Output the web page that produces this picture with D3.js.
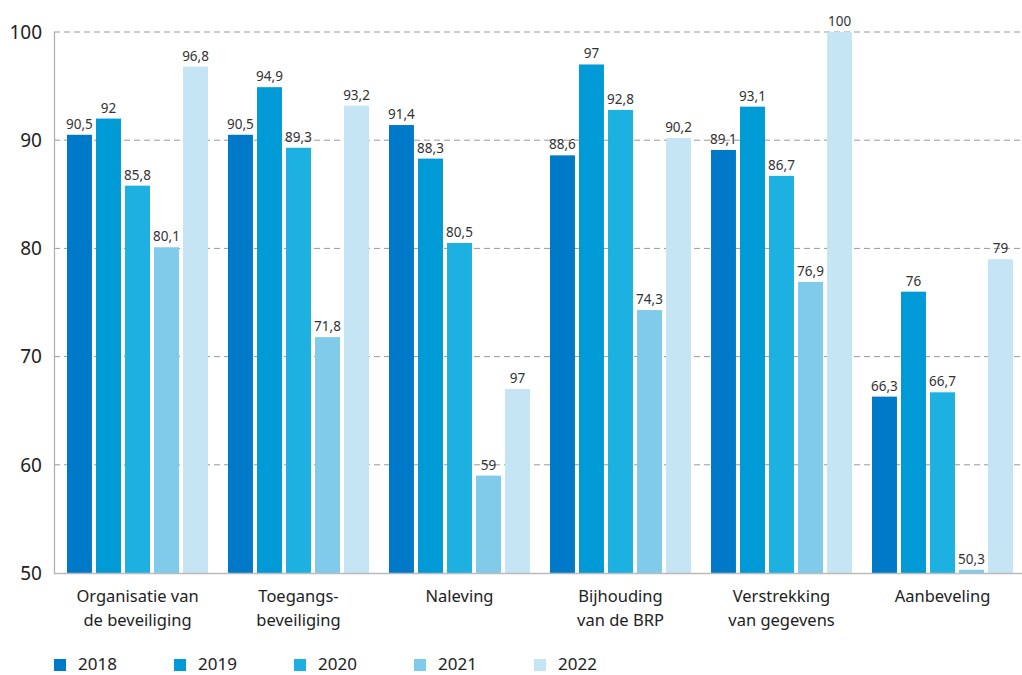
<!DOCTYPE html>
<html>
<head>
<meta charset="utf-8">
<script src="https://d3js.org/d3.v7.min.js"></script>
<style>
  body { margin: 0; background: #fff; }
  svg { font-family: 'Noto Sans', 'Open Sans', sans-serif; }
  .tick-label { font-size: 19px; fill: #222; }
  .val { font-size: 13.5px; fill: #333; }
  .cat { font-size: 16.5px; fill: #222; }
  .leg { font-size: 17px; fill: #222; }
</style>
</head>
<body>
<script>
// Categories and series
var categories = [
  ['Organisatie van', 'de beveiliging'],
  ['Toegangs-', 'beveiliging'],
  ['Naleving'],
  ['Bijhouding', 'van de BRP'],
  ['Verstrekking', 'van gegevens'],
  ['Aanbeveling']
];
var years = ['2018', '2019', '2020', '2021', '2022'];
var v2018 = [90.5, 90.5, 91.4, 88.6, 89.1, 66.3];
var v2019 = [92, 94.9, 88.3, 97, 93.1, 76];
var v2020 = [85.8, 89.3, 80.5, 92.8, 86.7, 66.7];
var v2021 = [80.1, 71.8, 59, 74.3, 76.9, 50.3];
var v2022 = [96.8, 93.2, 67, 90.2, 100, 79];
// label printed in the source differs from the bar for Naleving 2022
var label2022 = ['96,8', '93,2', '97', '90,2', '100', '79'];
var yTicks = [50, 60, 70, 80, 90, 100];
var colors = ['#0079c8', '#009ad6', '#1db1e2', '#80cbea', '#c5e5f5'];

var series = [v2018, v2019, v2020, v2021, v2022];

var W = 1022, H = 675;
var svg = d3.select('body').append('svg')
  .attr('width', W).attr('height', H);

var x0 = d3.scaleBand()
  .domain(d3.range(categories.length))
  .range([57, 1023])
  .paddingInner(0).paddingOuter(0);

var x1 = d3.scaleBand()
  .domain(years)
  .range([10, x0.bandwidth() - 10])
  .paddingInner(0.14).paddingOuter(0);

var y = d3.scaleLinear().domain([50, 100]).range([573, 32]);

var fmt = function (v) { return String(v).replace('.', ','); };

// gridlines
svg.append('g').selectAll('line')
  .data(yTicks.filter(function (t) { return t > 50; }))
  .enter().append('line')
  .attr('x1', 54).attr('x2', W)
  .attr('y1', function (d) { return y(d); })
  .attr('y2', function (d) { return y(d); })
  .attr('stroke', '#999').attr('stroke-width', 1)
  .attr('stroke-dasharray', '6,4');

// y tick labels
svg.append('g').selectAll('text')
  .data(yTicks).enter().append('text')
  .attr('class', 'tick-label')
  .attr('x', 42)
  .attr('y', function (d) { return y(d); })
  .attr('dy', '0.36em')
  .attr('text-anchor', 'end')
  .text(function (d) { return d; });

// bars
var groups = svg.append('g').selectAll('g')
  .data(categories).enter().append('g')
  .attr('transform', function (d, i) { return 'translate(' + x0(i) + ',0)'; });

groups.each(function (c, ci) {
  var g = d3.select(this);
  years.forEach(function (yr, si) {
    var v = series[si][ci];
    g.append('rect')
      .attr('x', x1(yr))
      .attr('y', y(v))
      .attr('width', x1.bandwidth())
      .attr('height', y(50) - y(v))
      .attr('fill', colors[si]);
    g.append('text')
      .attr('class', 'val')
      .attr('x', x1(yr) + x1.bandwidth() / 2)
      .attr('y', y(v) - 6)
      .attr('text-anchor', 'middle')
      .text(si === 4 ? label2022[ci] : fmt(v));
  });
  g.append('text')
    .attr('class', 'cat')
    .attr('text-anchor', 'middle')
    .selectAll('tspan')
    .data(c).enter().append('tspan')
    .attr('x', x0.bandwidth() / 2)
    .attr('y', function (d, i) { return 602 + i * 24; })
    .text(function (d) { return d; });
});

// axes lines
svg.append('line')
  .attr('x1', 54.5).attr('x2', 54.5)
  .attr('y1', 32).attr('y2', 573)
  .attr('stroke', '#aaa').attr('stroke-width', 1.2);
svg.append('line')
  .attr('x1', 54).attr('x2', W)
  .attr('y1', 573.5).attr('y2', 573.5)
  .attr('stroke', '#bbb').attr('stroke-width', 1.5);

// legend
var leg = svg.append('g').selectAll('g')
  .data(years).enter().append('g')
  .attr('transform', function (d, i) { return 'translate(' + (54 + i * 120) + ',659)'; });
leg.append('rect')
  .attr('width', 12).attr('height', 12)
  .attr('fill', function (d, i) { return colors[i]; });
leg.append('text')
  .attr('class', 'leg')
  .attr('x', 24).attr('y', 5).attr('dy', '0.36em')
  .text(function (d) { return d; });
</script>
</body>
</html>
